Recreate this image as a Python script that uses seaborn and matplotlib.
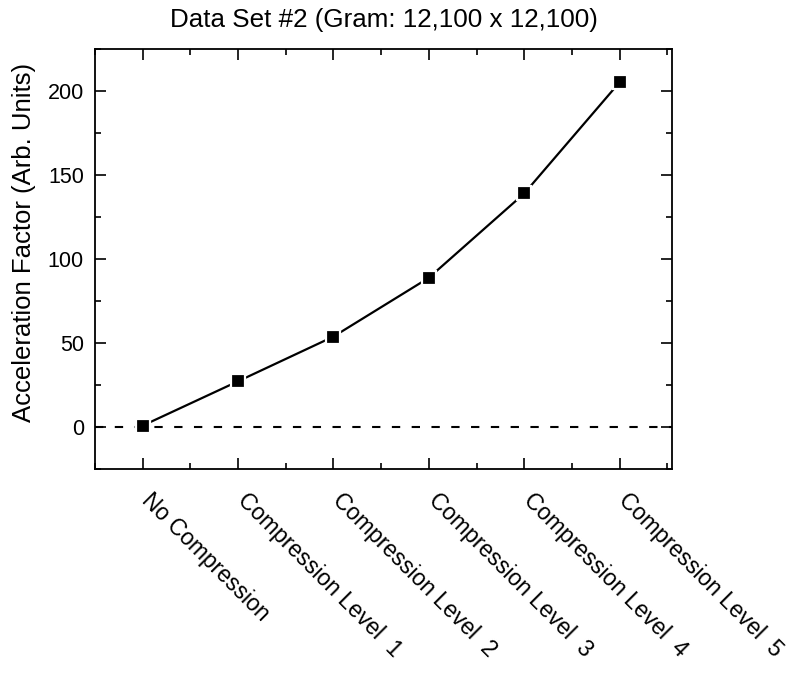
import numpy as np
import pandas as pd
import seaborn as sns
from matplotlib import pyplot as plt
from matplotlib.ticker import MultipleLocator
from matplotlib.transforms import ScaledTranslation

categories = ["No Compression", "Compression Level  1", "Compression Level  2",
              "Compression Level  3", "Compression Level  4", "Compression Level  5"]
accel = [0.8, 27.2, 53.8, 88.8, 139.0, 205.2]

sns.set_style("ticks")
plt.rcParams["font.family"] = ["Liberation Sans", "DejaVu Sans"]
plt.rcParams["text.color"] = "black"
plt.rcParams["axes.labelcolor"] = "black"
plt.rcParams["xtick.color"] = "black"
plt.rcParams["ytick.color"] = "black"

data = pd.DataFrame({"pos": np.arange(len(categories)), "accel": accel})

fig, ax = plt.subplots(figsize=(8.01, 6.77), dpi=100)
fig.subplots_adjust(left=0.1186, right=0.839, top=0.9276, bottom=0.3073)

ax.axhline(0, color="black", lw=1.5, ls=(0, (4, 5.5)), zorder=1)
sns.lineplot(data, x="pos", y="accel", ax=ax, color="black", lw=1.6,
             marker="s", markersize=10.5, markerfacecolor="black",
             markeredgecolor="white", markeredgewidth=1.6, zorder=3)

ax.set_xlim(-0.5, 5.55)
ax.set_ylim(-25, 225)
ax.set_xticks(data["pos"])
ax.set_xticklabels(categories, rotation=-45, ha="left", va="top",
                   rotation_mode="anchor", fontsize=16.5)
ax.xaxis.set_minor_locator(MultipleLocator(0.5))
ax.set_yticks([0, 50, 100, 150, 200])
ax.yaxis.set_minor_locator(MultipleLocator(25))

ax.tick_params(which="both", direction="in", top=True, right=True,
               width=1.2, color="black")
ax.tick_params(axis="y", labelsize=15.5)
ax.tick_params(which="major", length=8)
ax.tick_params(which="minor", length=4)
ax.tick_params(axis="x", which="major", pad=12)
ax.tick_params(axis="y", which="major", pad=8)
for s in ax.spines.values():
    s.set_linewidth(1.3)
    s.set_color("black")

# nudge the slanted labels so they start right at the tick
shift = ScaledTranslation(0.11, -0.03, fig.dpi_scale_trans)
for lab in ax.get_xticklabels():
    lab.set_transform(lab.get_transform() + shift)

ax.set_xlabel("")
ax.set_ylabel("Acceleration Factor (Arb. Units)", fontsize=18.5)
ax.yaxis.set_label_coords(-0.102, 0.54)
ax.set_title("Data Set #2 (Gram: 12,100 x 12,100)", fontsize=18.7, pad=16)

fig.savefig("out.png", dpi=100)
